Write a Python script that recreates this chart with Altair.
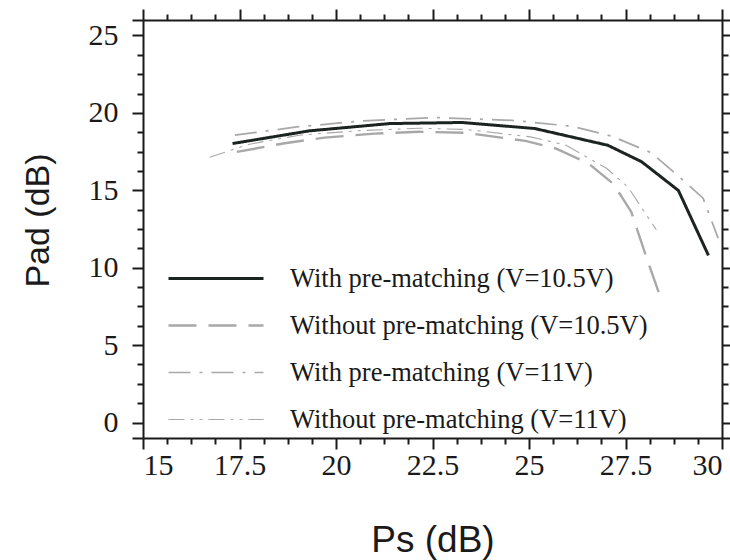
import altair as alt
import pandas as pd

# ---- data ----
series_names = [
    "With pre-matching (V=10.5V)",
    "Without pre-matching (V=10.5V)",
    "With pre-matching (V=11V)",
    "Without pre-matching (V=11V)",
]

with105_x = [17.32, 19.31, 21.39, 23.27, 25.15, 27.04, 27.92, 28.87, 29.65]
with105_y = [18.02, 18.84, 19.31, 19.38, 18.99, 17.91, 16.84, 14.99, 10.79]

without105_x = [17.43, 18.67, 19.70, 20.99, 22.15, 23.37, 24.91, 25.69, 26.54, 27.19, 27.65, 28.09, 28.40]
without105_y = [17.48, 18.04, 18.40, 18.66, 18.78, 18.71, 18.19, 17.70, 16.74, 15.41, 13.60, 10.32, 8.13]

with11_x = [17.38, 18.98, 20.65, 22.57, 24.55, 26.10, 27.14, 28.17, 29.04, 29.51, 29.90]
with11_y = [18.56, 19.09, 19.48, 19.70, 19.52, 19.14, 18.50, 17.42, 15.55, 14.49, 11.91]

without11_x = [16.73, 17.76, 19.05, 20.60, 22.15, 23.37, 25.04, 25.95, 27.01, 27.57, 28.04, 28.30]
without11_y = [17.14, 17.98, 18.56, 18.85, 19.01, 18.93, 18.45, 17.92, 16.42, 15.19, 13.41, 12.45]

x_domain = [15, 30]
y_domain = [-1, 26]
x_ticks = [15 + 0.625 * i for i in range(25)]
y_ticks = [-1] + [1.25 * i for i in range(21)] + [26]

series_colors = ["#1c2421", "#a8a8a8", "#a8a8a8", "#a8a8a8"]
series_dashes = [[1, 0], [28, 12], [22, 9, 3, 9], [16, 6, 3, 6, 3, 6]]
series_widths = [3, 1.1, 1.1, 1.1]

rows = []
for name, xs, ys in zip(
    series_names,
    [with105_x, without105_x, with11_x, without11_x],
    [with105_y, without105_y, with11_y, without11_y],
):
    for i, (xv, yv) in enumerate(zip(xs, ys)):
        rows.append({"series": name, "Ps": xv, "Pad": yv, "order": i})
df = pd.DataFrame(rows)

INK = "#1a1a1a"
SERIF = "Liberation Serif"
SANS = "Liberation Sans"

x_major_test = "datum.value % 2.5 == 0"
y_major_test = "datum.value % 5 == 0 || datum.value == -1 || datum.value == 26"

common_axis = dict(
    grid=False,
    domainColor=INK,
    domainWidth=2,
    tickColor=INK,
    tickWidth=2,
    labelOverlap=False,
    labelBound=False,
)

legend = alt.Legend(
    title=None,
    orient="none",
    legendX=24,
    legendY=246,
    direction="vertical",
    symbolType="stroke",
    symbolSize=9025,
    clipHeight=25,
    rowPadding=20,
    labelOffset=25,
    labelFont=SERIF,
    labelFontSize=26.5,
    labelColor=INK,
    labelLimit=600,
    padding=0,
)

x_scale = alt.Scale(domain=x_domain, nice=False, zero=False)
y_scale = alt.Scale(domain=y_domain, nice=False, zero=False)

lines = alt.Chart(df).mark_line().encode(
    x=alt.X(
        "Ps:Q",
        scale=x_scale,
        axis=alt.Axis(
            title="Ps (dB)",
            orient="bottom",
            values=x_ticks,
            labelExpr="datum.value % 2.5 == 0 ? toString(datum.value) : ''",
            tickSize={"condition": {"test": x_major_test, "value": 11}, "value": 6},
            labelFont=SERIF,
            labelFontSize=30,
            labelColor=INK,
            labelPadding=1,
            titleFont=SANS,
            titleFontSize=37,
            titleFontWeight="normal",
            titleColor=INK,
            titleBaseline="middle",
            titleY=102,
            **common_axis,
        ),
    ),
    y=alt.Y(
        "Pad:Q",
        scale=y_scale,
        axis=alt.Axis(
            title="Pad (dB)",
            orient="left",
            values=y_ticks,
            labelExpr="(datum.value % 5 == 0 && datum.value >= 0 && datum.value <= 25) ? toString(datum.value) : ''",
            tickSize={"condition": {"test": y_major_test, "value": 11}, "value": 6},
            labelFont=SERIF,
            labelFontSize=30,
            labelColor=INK,
            labelPadding=14,
            titleFont=SANS,
            titleFontSize=34,
            titleFontWeight="normal",
            titleColor=INK,
            titleBaseline="middle",
            titleX=-105,
            titleY=200,
            **common_axis,
        ),
    ),
    color=alt.Color("series:N", scale=alt.Scale(domain=series_names, range=series_colors), legend=legend),
    strokeDash=alt.StrokeDash("series:N", scale=alt.Scale(domain=series_names, range=series_dashes), legend=legend),
    strokeWidth=alt.StrokeWidth("series:N", scale=alt.Scale(domain=series_names, range=series_widths), legend=legend),
    order="order:Q",
)

frame = alt.Chart(df).mark_point(opacity=0).encode(
    x=alt.X(
        "Ps:Q",
        scale=x_scale,
        axis=alt.Axis(
            title=None,
            orient="top",
            values=x_ticks,
            labels=False,
            tickSize={"condition": {"test": x_major_test, "value": 11}, "value": 6},
            **common_axis,
        ),
    ),
    y=alt.Y(
        "Pad:Q",
        scale=y_scale,
        axis=alt.Axis(
            title=None,
            orient="right",
            values=y_ticks,
            labels=False,
            tickSize={"condition": {"test": y_major_test, "value": 11}, "value": 6},
            **common_axis,
        ),
    ),
)

chart = (
    alt.layer(lines, frame)
    .resolve_scale(x="independent", y="independent")
    .properties(
        width=579,
        height=418,
        autosize=alt.AutoSizeParams(type="none"),
        padding={"left": 143, "top": 20, "right": 8, "bottom": 122},
        background="white",
    )
    .configure_view(strokeWidth=0)
)

chart.save("out.html", embed_options={"renderer": "svg", "actions": False})
